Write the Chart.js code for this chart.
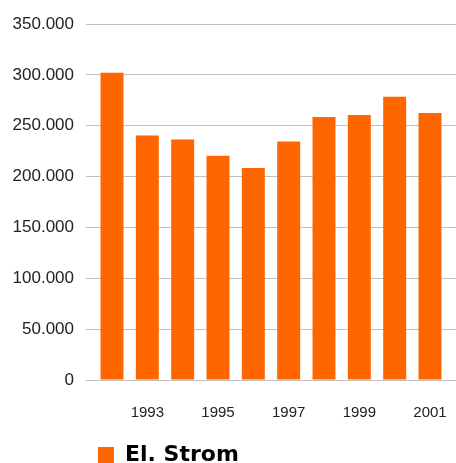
<!DOCTYPE html>
<html>
<head>
<meta charset="utf-8">
<script src="https://cdn.jsdelivr.net/npm/chart.js@4"></script>
<style>
  html, body { margin: 0; padding: 0; background: #fff; }
  #wrap { width: 456px; height: 463px; }
</style>
</head>
<body>
<div id="wrap"><canvas id="chart" width="456" height="463"></canvas></div>
<script>
// data
const years = [1992, 1993, 1994, 1995, 1996, 1997, 1998, 1999, 2000, 2001];
const strom = [302000, 240500, 236500, 220500, 208500, 234500, 258500, 260500, 278500, 262500];
const xTickYears = [1993, 1995, 1997, 1999, 2001];
const seriesName = 'El. Strom';

const orange = '#ff6600';
const gridColor = '#c0c0c0';

function fmt(v) {
    return v.toLocaleString('de-DE');
}

// small nudge so the legend sits where the original had it
const legendNudge = {
    id: 'legendNudge',
    afterLayout(chart) {
        chart.legend.left += 12;
        chart.legend.top += 13;
    }
};

const data = {
    datasets: [{
        label: seriesName,
        data: years.map((y, i) => ({ x: y, y: strom[i] })),
        backgroundColor: orange,
        borderWidth: 0,
        barPercentage: 0.65,
        categoryPercentage: 1
    }]
};

const config = {
    type: 'bar',
    data: data,
    plugins: [legendNudge],
    options: {
        responsive: false,
        animation: false,
        layout: { padding: { top: 24, right: 0, left: 0, bottom: 0 } },
        plugins: {
            tooltip: { enabled: false },
            legend: {
                position: 'bottom',
                align: 'start',
                fullSize: false,
                labels: {
                    boxWidth: 16,
                    boxHeight: 16,
                    padding: 0,
                    color: '#000',
                    font: { family: 'DejaVu Sans, Verdana, sans-serif', size: 22, weight: 'bold' }
                }
            }
        },
        scales: {
            x: {
                type: 'linear',
                min: 1991.264,
                max: 2001.736,
                offset: false,
                grid: { display: false, drawTicks: false },
                border: { display: false },
                afterBuildTicks: scale => {
                    scale.ticks = xTickYears.map(v => ({ value: v }));
                },
                afterFit: scale => {
                    scale.height = 51;
                    scale.paddingLeft = 0;
                    scale.paddingRight = 0;
                },
                ticks: {
                    padding: 24,
                    color: '#222',
                    maxRotation: 0,
                    callback: v => String(v),
                    font: { family: 'Liberation Sans, Arial, sans-serif', size: 15 }
                }
            },
            y: {
                min: 0,
                max: 350000,
                grid: { color: gridColor, lineWidth: 1, drawTicks: false },
                border: { display: false },
                afterFit: scale => { scale.width = 86; },
                ticks: {
                    stepSize: 50000,
                    padding: 12,
                    color: '#222',
                    callback: v => fmt(v),
                    font: { family: 'Liberation Sans, Arial, sans-serif', size: 17 }
                }
            }
        }
    }
};

window.stromChart = new Chart(document.getElementById('chart'), config);
</script>
</body>
</html>
